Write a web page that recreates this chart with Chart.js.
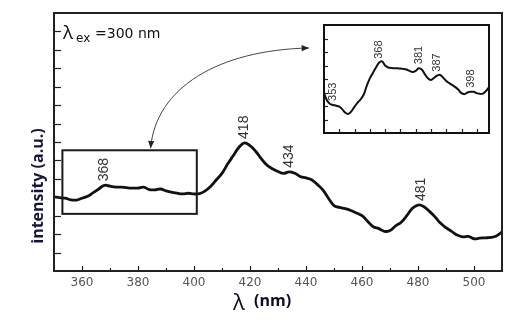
<!DOCTYPE html>
<html>
<head>
<meta charset="utf-8">
<script src="https://cdn.jsdelivr.net/npm/chart.js@4.4.1/dist/chart.umd.min.js"></script>
<style>
  html, body { margin: 0; padding: 0; background: #fff; }
  #wrap { position: relative; width: 532px; height: 336px; }
  #main { position: absolute; left: 0; top: 0; }
  #inset { position: absolute; left: 321px; top: 22px; }
</style>
</head>
<body>
<div id="wrap">
  <canvas id="main" width="532" height="336"></canvas>
  <canvas id="inset" width="171" height="114"></canvas>
</div>
<script>
/* ── PL emission spectrum, excitation 300 nm ───────────── */

// full scan, 2 nm steps
const WAVELENGTH = [
  350, 352, 354, 356, 358, 360, 362, 364, 366, 368,
  370, 372, 374, 376, 378, 380, 382, 384, 386, 388,
  390, 392, 394, 396, 398, 400, 402, 404, 406, 408,
  410, 412, 414, 416, 418, 420, 422, 424, 426, 428,
  430, 432, 434, 436, 438, 440, 442, 444, 446, 448,
  450, 452, 454, 456, 458, 460, 462, 464, 466, 468,
  470, 472, 474, 476, 478, 480, 482, 484, 486, 488,
  490, 492, 494, 496, 498, 500, 502, 504, 506, 508,
  510,
];
const INTENSITY = [
  4.02, 3.98, 3.95, 3.86, 3.85, 3.95, 4.05, 4.25, 4.45, 4.65,
  4.60, 4.55, 4.55, 4.52, 4.50, 4.50, 4.55, 4.42, 4.40, 4.45,
  4.35, 4.28, 4.22, 4.18, 4.22, 4.18, 4.20, 4.35, 4.60, 4.95,
  5.30, 5.80, 6.25, 6.70, 6.95, 6.80, 6.50, 6.10, 5.75, 5.55,
  5.40, 5.30, 5.38, 5.30, 5.12, 5.05, 4.95, 4.70, 4.40, 3.95,
  3.55, 3.45, 3.38, 3.28, 3.15, 3.00, 2.70, 2.40, 2.30, 2.15,
  2.20, 2.45, 2.65, 3.00, 3.40, 3.58, 3.50, 3.25, 2.95, 2.60,
  2.35, 2.15, 1.95, 1.85, 1.88, 1.75, 1.78, 1.80, 1.82, 1.90,
  2.12,
];
const PEAKS = [368, 418, 434, 481];

// zoomed 350–404 nm region, 1 nm steps
const ZOOM_WAVELENGTH = [
  350, 351, 352, 353, 354, 355, 356, 357, 358, 359,
  360, 361, 362, 363, 364, 365, 366, 367, 368, 369,
  370, 371, 372, 373, 374, 375, 376, 377, 378, 379,
  380, 381, 382, 383, 384, 385, 386, 387, 388, 389,
  390, 391, 392, 393, 394, 395, 396, 397, 398, 399,
  400, 401, 402, 403, 404,
];
const ZOOM_INTENSITY = [
  2.95, 2.40, 2.15, 2.08, 2.02, 1.95, 1.75, 1.50, 1.42, 1.62,
  1.95, 2.25, 2.50, 2.85, 3.50, 4.05, 4.45, 4.85, 5.20, 5.30,
  5.00, 4.85, 4.82, 4.80, 4.80, 4.77, 4.75, 4.70, 4.60, 4.52,
  4.60, 4.80, 4.70, 4.35, 4.05, 3.93, 4.08, 4.25, 4.30, 4.10,
  3.85, 3.70, 3.55, 3.40, 3.20, 2.95, 2.88, 3.00, 3.05, 3.05,
  2.95, 2.90, 2.92, 3.10, 3.40,
];
const ZOOM_PEAKS = [353, 368, 381, 387, 398];

// axes
const X_TICKS = [360, 370, 380, 390, 400, 410, 420, 430, 440, 450, 460, 470, 480, 490, 500];
const X_LABELS = [360, 380, 400, 420, 440, 460, 480, 500];
const Y_TICKS = [1, 2, 3, 4, 5, 6, 7, 8, 9, 10, 11, 12, 13];
const ZOOM_X_TICKS = [355, 360, 365, 370, 375, 380, 385, 390, 395, 400];
const ZOOM_Y_TICKS = [1, 2, 3, 4, 5, 6, 7];

// region that the inset enlarges, and where the arrow lands on it
const ZOOM_BOX = { x0: 353, x1: 401, y0: 3.1, y1: 6.55 };
const ARROW_NM = 384.5;

const INK = '#111';
const LABEL_FONT = '"Liberation Sans Narrow", "Arial Narrow", "Liberation Sans", sans-serif';

function toPoints(xs, ys) { return xs.map((v, i) => ({ x: v, y: ys[i] })); }

function valueAt(xs, ys, nm) {
  let best = 0;
  xs.forEach((v, i) => { if (Math.abs(v - nm) < Math.abs(xs[best] - nm)) best = i; });
  return ys[best];
}

function peakLabel(ctx, text, px, py, size) {
  ctx.save();
  ctx.translate(px, py);
  ctx.rotate(-Math.PI / 2);
  ctx.font = size + 'px ' + LABEL_FONT;
  ctx.fillStyle = '#333';
  ctx.textAlign = 'left';
  ctx.textBaseline = 'middle';
  ctx.fillText(text, 0, 0);
  ctx.restore();
}

function arrowHead(ctx, tip, from, size) {
  const ang = Math.atan2(tip.y - from.y, tip.x - from.x);
  ctx.beginPath();
  ctx.moveTo(tip.x, tip.y);
  ctx.lineTo(tip.x - size * Math.cos(ang - 0.4), tip.y - size * Math.sin(ang - 0.4));
  ctx.lineTo(tip.x - size * Math.cos(ang + 0.4), tip.y - size * Math.sin(ang + 0.4));
  ctx.closePath();
  ctx.fill();
}

// ── main plot decorations: frame, inward ticks, labels, box, arrow
const mainDecor = {
  id: 'mainDecor',
  afterDatasetsDraw(chart) {
    const { ctx, chartArea: a, scales: { x, y } } = chart;
    ctx.save();

    ctx.strokeStyle = '#222';
    ctx.lineWidth = 1.2;
    X_TICKS.forEach(v => {
      const px = Math.round(x.getPixelForValue(v)) + 0.5;
      const len = X_LABELS.includes(v) ? 5 : 3;
      ctx.beginPath(); ctx.moveTo(px, a.bottom); ctx.lineTo(px, a.bottom - len); ctx.stroke();
    });
    Y_TICKS.forEach(v => {
      const py = Math.round(y.getPixelForValue(v)) + 0.5;
      ctx.beginPath(); ctx.moveTo(a.left, py); ctx.lineTo(a.left + 7, py); ctx.stroke();
    });

    ctx.lineWidth = 2;
    ctx.strokeRect(a.left, a.top, a.right - a.left, a.bottom - a.top);

    // zoom box
    const bx0 = x.getPixelForValue(ZOOM_BOX.x0), bx1 = x.getPixelForValue(ZOOM_BOX.x1);
    const by0 = y.getPixelForValue(ZOOM_BOX.y1), by1 = y.getPixelForValue(ZOOM_BOX.y0);
    ctx.strokeStyle = '#1a1a1a';
    ctx.lineWidth = 2;
    ctx.strokeRect(bx0, by0, bx1 - bx0, by1 - by0);

    // curved double arrow from box to inset
    const p0 = { x: x.getPixelForValue(ARROW_NM), y: by0 - 2 };
    const p3 = { x: 309, y: 48 };
    const c1 = { x: p0.x + 5, y: 88 };
    const c2 = { x: 218, y: 50 };
    ctx.strokeStyle = '#444';
    ctx.fillStyle = '#222';
    ctx.lineWidth = 1;
    ctx.beginPath();
    ctx.moveTo(p0.x, p0.y);
    ctx.bezierCurveTo(c1.x, c1.y, c2.x, c2.y, p3.x, p3.y);
    ctx.stroke();
    arrowHead(ctx, p0, c1, 8);
    arrowHead(ctx, p3, c2, 8);

    // peak positions
    PEAKS.forEach(nm => {
      const px = x.getPixelForValue(nm);
      const py = y.getPixelForValue(valueAt(WAVELENGTH, INTENSITY, nm)) - 4;
      peakLabel(ctx, String(nm), px, py, 14);
    });

    // excitation note
    ctx.fillStyle = '#111';
    ctx.textBaseline = 'alphabetic';
    ctx.textAlign = 'left';
    ctx.font = '19px "Open Sans", sans-serif';
    ctx.fillText('λ', 63, 39);
    ctx.font = '12px "DejaVu Sans", sans-serif';
    ctx.fillText('ex', 76, 42);
    ctx.font = '14px "DejaVu Sans", sans-serif';
    ctx.fillText('=300 nm', 95, 38);

    // axis titles
    ctx.fillStyle = '#0d0d26';
    ctx.font = '22px "Open Sans", sans-serif';
    ctx.fillText('λ', 233, 310);
    ctx.font = 'bold 16px "Open Sans", sans-serif';
    ctx.fillText('(nm)', 254, 306);

    ctx.translate(38, 186);
    ctx.rotate(-Math.PI / 2);
    ctx.textAlign = 'center';
    ctx.textBaseline = 'middle';
    ctx.fillStyle = '#15153a';
    ctx.font = 'bold 16px "Open Sans", sans-serif';
    ctx.fillText('intensity (a.u.)', 0, 0);

    ctx.restore();
  },
};

new Chart(document.getElementById('main'), {
  type: 'line',
  data: {
    datasets: [{
      data: toPoints(WAVELENGTH, INTENSITY),
      borderColor: INK,
      borderWidth: 2.8,
      pointRadius: 0,
      tension: 0.4,
      fill: false,
    }],
  },
  options: {
    responsive: false,
    animation: false,
    devicePixelRatio: 1,
    layout: { padding: { left: 54, top: 13, right: 30, bottom: 0 } },
    plugins: { legend: { display: false }, tooltip: { enabled: false } },
    scales: {
      x: {
        type: 'linear',
        min: 350, max: 510,
        grid: { display: false, drawTicks: false },
        border: { display: false },
        afterFit: s => { s.height = 65; },
        ticks: {
          stepSize: 10,
          autoSkip: false,
          maxRotation: 0,
          padding: 5,
          color: '#555',
          font: { family: '"DejaVu Sans", sans-serif', size: 12 },
          callback: v => X_LABELS.includes(v) ? String(v) : '',
        },
      },
      y: { display: false, min: 0, max: 14 },
    },
  },
  plugins: [mainDecor],
});

// ── inset: enlarged 350–404 nm region
const insetDecor = {
  id: 'insetDecor',
  afterDatasetsDraw(chart) {
    const { ctx, chartArea: a, scales: { x, y } } = chart;
    ctx.save();
    ctx.strokeStyle = '#222';
    ctx.lineWidth = 1.2;
    ZOOM_X_TICKS.forEach(v => {
      const px = Math.round(x.getPixelForValue(v)) + 0.5;
      ctx.beginPath(); ctx.moveTo(px, a.bottom); ctx.lineTo(px, a.bottom - 4); ctx.stroke();
    });
    ZOOM_Y_TICKS.forEach(v => {
      const py = Math.round(y.getPixelForValue(v)) + 0.5;
      ctx.beginPath(); ctx.moveTo(a.left, py); ctx.lineTo(a.left + 4, py); ctx.stroke();
    });
    ctx.strokeStyle = '#111';
    ctx.lineWidth = 2;
    ctx.strokeRect(a.left, a.top, a.right - a.left, a.bottom - a.top);

    ZOOM_PEAKS.forEach(nm => {
      const px = x.getPixelForValue(nm);
      const py = y.getPixelForValue(valueAt(ZOOM_WAVELENGTH, ZOOM_INTENSITY, nm)) - 4;
      peakLabel(ctx, String(nm), px, py, 11);
    });
    ctx.restore();
  },
};

new Chart(document.getElementById('inset'), {
  type: 'line',
  data: {
    datasets: [{
      data: toPoints(ZOOM_WAVELENGTH, ZOOM_INTENSITY),
      borderColor: INK,
      borderWidth: 2,
      pointRadius: 0,
      tension: 0.4,
      fill: false,
    }],
  },
  options: {
    responsive: false,
    animation: false,
    devicePixelRatio: 1,
    layout: { padding: 3 },
    plugins: { legend: { display: false }, tooltip: { enabled: false } },
    scales: {
      x: { type: 'linear', display: false, min: 350, max: 404 },
      y: { display: false, min: 0, max: 8 },
    },
  },
  plugins: [insetDecor],
});
</script>
</body>
</html>
